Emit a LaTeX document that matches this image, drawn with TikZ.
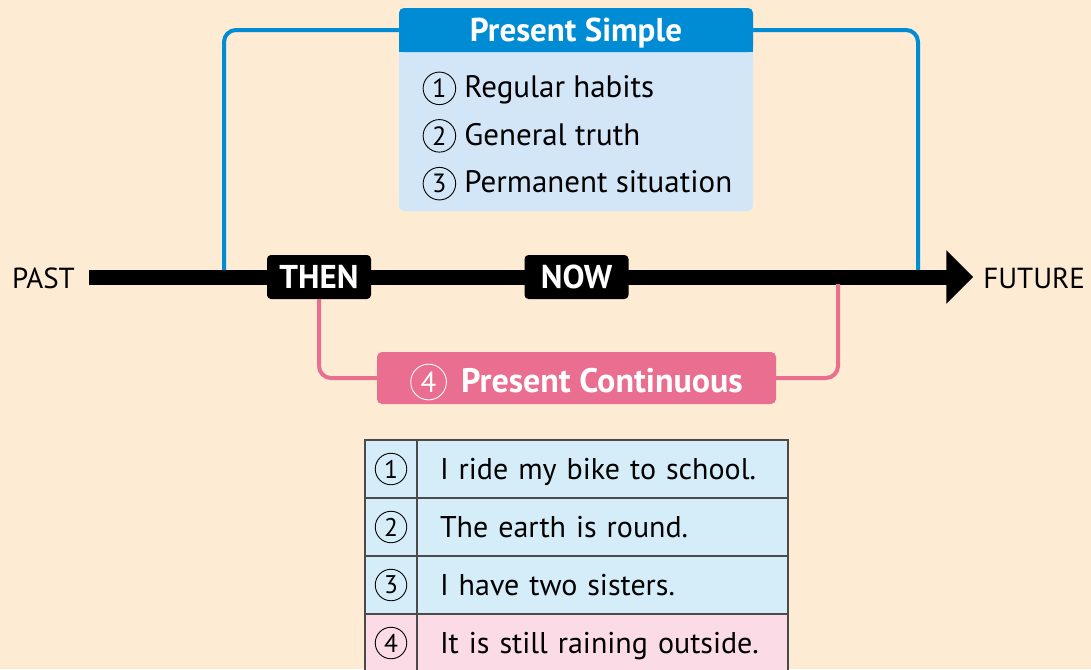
\documentclass[tikz,border=0pt]{standalone}
\usepackage{fontspec}
\setmainfont{PT Sans}
\usepackage{tikz}
\usetikzlibrary{arrows.meta}
\usetikzlibrary{positioning}
\definecolor{bgpeach}{HTML}{FDEBD3}
\definecolor{psblue}{HTML}{008BD5}
\definecolor{pslight}{HTML}{D3E6F7}
\definecolor{pcpink}{HTML}{E96E8F}
\definecolor{rowblue}{HTML}{D5EDF9}
\definecolor{rowpink}{HTML}{FADBE6}
\definecolor{tablegray}{HTML}{4A4A4A}
\newcommand{\circnum}[2][black]{\tikz[baseline=(cn.base)]\node[draw=#1, text=#1, circle, line width=0.45pt, inner sep=0pt, minimum size=1.05em, font={}] (cn) {\scalebox{0.85}{\mdseries #2}};}

\begin{document}
\begin{tikzpicture}[
        x=0.5pt, y=-0.5pt,
        every node/.style={font=\fontsize{14.5}{17}\selectfont, outer sep=0pt},
        tagbox/.style={fill=black, text=white, rounded corners=2pt, minimum width=52pt, minimum height=22pt, text depth=0pt, font=\fontsize{16.5}{18}\selectfont\bfseries},
        headbox/.style={fill=psblue, text=white, rounded corners=2.5pt, minimum width=177pt, minimum height=22pt, text depth=0pt, font=\fontsize{16.5}{18}\selectfont\bfseries},
        bodybox/.style={fill=pslight, rounded corners=2.5pt, minimum width=177pt, minimum height=101.5pt},
        contbox/.style={fill=pcpink, text=white, rounded corners=2.5pt, minimum width=199.5pt, minimum height=26pt, text depth=0pt, font=\fontsize{17}{19}\selectfont\bfseries},
        numcell/.style={draw=tablegray, line width=0.8pt, minimum width=26pt, minimum height=29pt, inner sep=0pt, font=\fontsize{15}{18}\selectfont},
        textcell/.style={draw=tablegray, line width=0.8pt, minimum width=185.5pt, minimum height=29pt, text width=162.5pt, text depth=0pt, inner xsep=11.5pt, align=left, font=\fontsize{15}{18}\selectfont},
        timeline/.style={line width=7.5pt, -{Triangle[length=13.5pt, width=26pt]}},
        simpleline/.style={psblue, line width=2pt, rounded corners=6pt},
        contline/.style={pcpink, line width=2pt, rounded corners=6pt}
        ]

        % Background
        \fill[bgpeach] (0,0) rectangle (1091,669);
        \useasboundingbox (0,0) rectangle (1091,669);

        % Timeline
        \node[anchor=west, inner sep=0pt] (past) at (12,278) {PAST};
        \node[anchor=east, inner sep=0pt] (future) at (1085,278) {FUTURE};
        \draw[timeline] ([xshift=7pt]past.east |- 0,277) -- ([xshift=-5pt]future.west |- 0,277);
        \node[tagbox] (then) at (319,277) {THEN};
        \node[tagbox] (now) at (576.5,277) {NOW};

        % Present Simple
        \node[bodybox] (simple) at (576,109.5) {};
        \fill[psblue] (399,30) rectangle (753,52);
        \node[headbox] (head) at (576,30) {Present Simple};
        \node[anchor=west, align=left, font=\fontsize{15.5}{23.75}\selectfont] (items) at (416,136)
            {\circnum{1} Regular habits\\ \circnum{2} General truth\\ \circnum{3} Permanent situation};

        % Present Continuous
        \node[contbox] (cont) at (576.5,378) {\circnum[white]{4}\, Present Continuous};

        % Lines
        \coordinate (sl) at (224,270);
        \coordinate (sr) at (918,270);
        \coordinate (cr) at (838,284);
        \draw[simpleline] (sl) |- (head.west);
        \draw[simpleline] (head.east) -| (sr);
        \draw[contline] (then.south) |- (cont.west);
        \draw[contline] (cont.east) -| (cr);

        % Table
        \node[numcell, fill=rowblue] (n1) at (391,469) {\circnum{1}};
        \node[textcell, fill=rowblue, right=0pt of n1] (t1) {I ride my bike to school.};
        \node[numcell, fill=rowblue, below=0pt of n1] (n2) {\circnum{2}};
        \node[textcell, fill=rowblue, right=0pt of n2] (t2) {The earth is round.};
        \node[numcell, fill=rowblue, below=0pt of n2] (n3) {\circnum{3}};
        \node[textcell, fill=rowblue, right=0pt of n3] (t3) {I have two sisters.};
        \node[numcell, fill=rowpink, below=0pt of n3] (n4) {\circnum{4}};
        \node[textcell, fill=rowpink, right=0pt of n4] (t4) {It is still raining outside.};

\end{tikzpicture}
\end{document}
